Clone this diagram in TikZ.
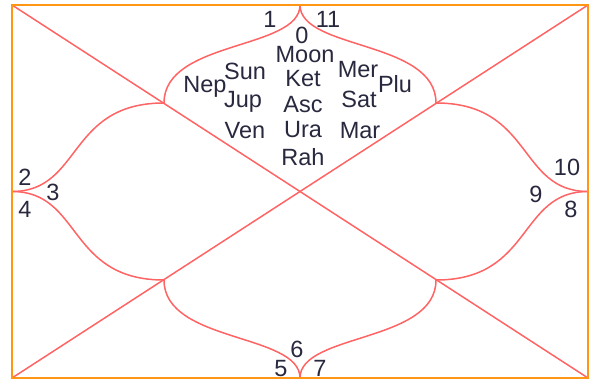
\documentclass[tikz,border=0pt]{standalone}
\usepackage{fontspec}
\setmainfont{Liberation Sans}
\definecolor{houseline}{RGB}{255,100,100}
\definecolor{chartframe}{RGB}{255,150,20}
\definecolor{chartink}{RGB}{40,40,62}
\begin{document}
\begin{tikzpicture}[x=1pt, y=-1pt,
		house/.style={houseline, line width=1.5pt},
		lbl/.style={chartink, font=\fontsize{23.5}{26}\selectfont, inner sep=0pt, anchor=base}]
	\useasboundingbox (0,0) rectangle (602,385);
	\coordinate (tl) at (12,5);
	\coordinate (tr) at (588,5);
	\coordinate (bl) at (12,378);
	\coordinate (br) at (588,378);
	\coordinate (top) at (300,5);
	\coordinate (bot) at (300,378);
	\coordinate (lft) at (12,191.5);
	\coordinate (rgt) at (588,191.5);
	\coordinate (jtl) at (164,103);
	\coordinate (jtr) at (436,103);
	\coordinate (jbl) at (164,280);
	\coordinate (jbr) at (436,280);
	\draw[house] (tl) -- (br);
	\draw[house] (bl) -- (tr);
	\draw[house] (top) .. controls +(0,45) and +(0,-63) .. (jtl);
	\draw[house] (top) .. controls +(0,45) and +(0,-63) .. (jtr);
	\draw[house] (bot) .. controls +(0,-45) and +(0,63) .. (jbl);
	\draw[house] (bot) .. controls +(0,-45) and +(0,63) .. (jbr);
	\draw[house] (lft) .. controls +(70,0) and +(-97,0) .. (jtl);
	\draw[house] (lft) .. controls +(70,0) and +(-97,0) .. (jbl);
	\draw[house] (rgt) .. controls +(-70,0) and +(97,0) .. (jtr);
	\draw[house] (rgt) .. controls +(-70,0) and +(97,0) .. (jbr);
	\draw[chartframe, line width=2.8pt] (tl) rectangle (br);
	\node[lbl] (h1) at (270,28) {1};
	\node[lbl] (h11) at (328,28) {11};
	\node[lbl] (h0) at (302,44) {0};
	\node[lbl] (h2) at (25,185) {2};
	\node[lbl] (h3) at (53,200) {3};
	\node[lbl] (h4) at (25,217) {4};
	\node[lbl] (h10) at (567,175) {10};
	\node[lbl] (h9) at (536,202) {9};
	\node[lbl] (h8) at (571,217) {8};
	\node[lbl] (h6) at (297,357) {6};
	\node[lbl] (h5) at (281,376) {5};
	\node[lbl] (h7) at (320,376) {7};
	\node[lbl] (moon) at (305,63) {Moon};
	\node[lbl] (nep) at (205,93) {Nep};
	\node[lbl] (sun) at (245,80) {Sun};
	\node[lbl] (ket) at (303,87) {Ket};
	\node[lbl] (mer) at (358,78) {Mer};
	\node[lbl] (plu) at (395,93) {Plu};
	\node[lbl] (jup) at (243,108) {Jup};
	\node[lbl] (asc) at (303,113) {Asc};
	\node[lbl] (sat) at (359,108) {Sat};
	\node[lbl] (ven) at (245,139) {Ven};
	\node[lbl] (ura) at (303,137) {Ura};
	\node[lbl] (mar) at (360,139) {Mar};
	\node[lbl] (rah) at (303,165) {Rah};
\end{tikzpicture}
\end{document}
